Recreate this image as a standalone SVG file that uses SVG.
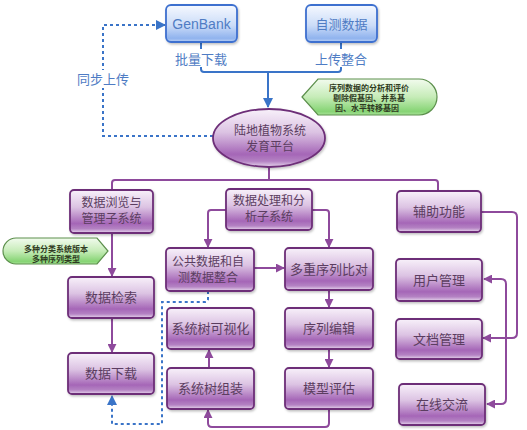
<svg xmlns="http://www.w3.org/2000/svg" width="527" height="430" viewBox="0 0 527 430">
<defs>
<linearGradient id="gp" x1="0" y1="0" x2="0" y2="1">
<stop offset="0" stop-color="#f8f1fa"/>
<stop offset="0.4" stop-color="#dcc3e3"/>
<stop offset="0.78" stop-color="#a566b7"/>
<stop offset="0.9" stop-color="#b482c3"/>
<stop offset="1" stop-color="#e8d8ee"/>
</linearGradient>
<linearGradient id="gb" x1="0" y1="0" x2="0" y2="1">
<stop offset="0" stop-color="#f6f9ff"/>
<stop offset="0.55" stop-color="#cbdcf8"/>
<stop offset="0.9" stop-color="#90b3ee"/>
<stop offset="1" stop-color="#b8cff5"/>
</linearGradient>
<linearGradient id="gg" x1="0" y1="0" x2="0" y2="1">
<stop offset="0" stop-color="#f2fbee"/>
<stop offset="0.5" stop-color="#c6ecb8"/>
<stop offset="0.9" stop-color="#86d474"/>
<stop offset="1" stop-color="#a6e096"/>
</linearGradient>
<filter id="sh" x="-10%" y="-10%" width="130%" height="140%">
<feDropShadow dx="1" dy="1.5" stdDeviation="1" flood-color="#000" flood-opacity="0.25"/>
</filter>
<marker id="ap" viewBox="0 0 10 10" refX="9" refY="5" markerWidth="9" markerHeight="9" markerUnits="userSpaceOnUse" orient="auto-start-reverse">
<path d="M0,0 L10,5 L0,10 Z" fill="#8e4a9c"/>
</marker>
<marker id="ab" viewBox="0 0 10 10" refX="9" refY="5" markerWidth="10" markerHeight="10" markerUnits="userSpaceOnUse" orient="auto-start-reverse">
<path d="M0,0 L10,5 L0,10 Z" fill="#3a74c8"/>
</marker>
</defs>
<style>
.pb{fill:url(#gp);stroke:#6d2f78;stroke-width:1.8;filter:url(#sh)}
.bb{fill:url(#gb);stroke:#3d6fcf;stroke-width:1.8;filter:url(#sh)}
.cb{fill:url(#gg);stroke:#5c8f4c;stroke-width:1.2}
.t{font-family:"Noto Sans CJK SC","Liberation Sans",sans-serif;font-size:13px;fill:#5b3d60;text-anchor:middle}
.t2{font-size:12px}
.tb{font-family:"Noto Sans CJK SC","Liberation Sans",sans-serif;font-size:13px;fill:#4f7cc4;text-anchor:middle}
.tg{font-family:"Noto Sans CJK SC",sans-serif;font-size:8px;font-weight:bold;fill:#2f3a22;text-anchor:middle}
.lp{fill:none;stroke:#8e4a9c;stroke-width:2}
.lb{fill:none;stroke:#3a74c8;stroke-width:2}
.ld{fill:none;stroke:#3a74c8;stroke-width:2;stroke-dasharray:3,3}
</style>

<g id="connectors">
<path class="lb" d="M201,42 V49"/>
<path class="lb" d="M341,42 V49"/>
<path class="lb" d="M201,67 V69 q0,3 3,3 H338 q3,0 3,-3 V67"/>
<path class="lb" d="M268,72 V107" marker-end="url(#ab)"/>
<path class="ld" d="M213,136 H103 V25 H165" marker-end="url(#ab)"/>
<path class="lp" d="M269,167 V180"/>
<path class="lp" d="M112,190 V183 q0,-3 3,-3 H435 q3,0 3,3 V191"/>
<path class="lp" d="M226,210 H211 q-3,0 -3,3 V247" marker-end="url(#ap)"/>
<path class="lp" d="M312,210 H326 q3,0 3,3 V247" marker-end="url(#ap)"/>
<path class="lp" d="M112,233 V276" marker-end="url(#ap)"/>
<path class="lp" d="M112,319 V352" marker-end="url(#ap)"/>
<path class="lp" d="M254,268 H284" marker-end="url(#ap)"/>
<path class="lp" d="M329,290 V307" marker-end="url(#ap)"/>
<path class="lp" d="M329,349 V367" marker-end="url(#ap)"/>
<path class="lp" d="M329,409 V423 q0,4 -4,4 H212 q-4,0 -4,-4 V410" marker-end="url(#ap)"/>
<path class="lp" d="M209,368 V350" marker-end="url(#ap)"/>
<path class="ld" d="M208,291 V299 q0,3 -3,3 H162 V424 H112 V396" marker-end="url(#ab)"/>
<path class="lp" d="M481,212 H512 q5,0 5,5 V333 q0,5 -5,5 H483" marker-end="url(#ap)"/>
<path class="lp" d="M484,279 H501 q5,0 5,5 V399 q0,5 -5,5 H487" marker-start="url(#ap)" marker-end="url(#ap)"/>
</g>

<g id="genbank"><rect class="bb" x="166" y="5" width="71" height="37" rx="5"/><text x="201.5" y="28.5" class="tb" style="font-family:'Liberation Sans',sans-serif;font-size:14px">GenBank</text></g>
<g id="zice"><rect class="bb" x="306" y="5" width="71" height="37" rx="5"/><text x="341.5" y="28.5" class="tb">自测数据</text></g>
<g id="lbl-download"><text x="201" y="64" class="tb">批量下载</text></g>
<g id="lbl-upload"><text x="341" y="64" class="tb">上传整合</text></g>
<g id="lbl-sync"><rect x="76" y="70" width="54" height="18" fill="#fff"/><text x="103" y="84" class="tb">同步上传</text></g>

<g id="callout1"><path class="cb" d="M302,97 L318,79 H419 A18,18 0 0 1 419,115 H318 Z"/>
<text x="369" y="91" class="tg">序列数据的分析和评价</text>
<text x="369" y="101" class="tg">剔除假基因、并系基</text>
<text x="367" y="111" class="tg">因、水平转移基因</text></g>

<g id="platform"><ellipse class="pb" cx="269" cy="138" rx="56" ry="29" stroke="#5b2367"/>
<text x="270" y="134.5" class="t t2">陆地植物系统</text><text x="270" y="150.5" class="t t2">发育平台</text></g>

<g id="browse"><rect class="pb" x="70" y="190" width="83" height="43" rx="4"/><text x="111.5" y="206.5" class="t t2">数据浏览与</text><text x="111.5" y="222.5" class="t t2">管理子系统</text></g>
<g id="process"><rect class="pb" x="226" y="189" width="86" height="41" rx="4"/><text x="269" y="204.5" class="t t2">数据处理和分</text><text x="269" y="220.5" class="t t2">析子系统</text></g>
<g id="aux"><rect class="pb" x="397" y="191" width="84" height="41" rx="4"/><text x="439" y="216" class="t">辅助功能</text></g>

<g id="callout2"><path class="cb" d="M16,238 H97 L108,251 L97,264 H16 A13,13 0 0 1 16,238 Z"/>
<text x="56" y="251.5" class="tg">多种分类系统版本</text><text x="56" y="261.5" class="tg">多种序列类型</text></g>

<g id="search"><rect class="pb" x="68" y="277" width="86" height="41" rx="4"/><text x="111" y="302" class="t">数据检索</text></g>
<g id="download"><rect class="pb" x="68" y="353" width="86" height="41" rx="4"/><text x="111" y="378" class="t">数据下载</text></g>
<g id="integrate"><rect class="pb" x="166" y="248" width="88" height="43" rx="4"/><text x="208" y="265.5" class="t t2">公共数据和自</text><text x="208" y="281.5" class="t t2">测数据整合</text></g>
<g id="msa"><rect class="pb" x="285" y="248" width="88" height="42" rx="4"/><text x="329" y="273.5" class="t">多重序列比对</text></g>
<g id="treeviz"><rect class="pb" x="167" y="308" width="87" height="41" rx="4"/><text x="210.5" y="333" class="t">系统树可视化</text></g>
<g id="seqedit"><rect class="pb" x="285" y="308" width="88" height="41" rx="4"/><text x="329" y="333" class="t">序列编辑</text></g>
<g id="treeasm"><rect class="pb" x="167" y="368" width="87" height="41" rx="4"/><text x="210.5" y="393" class="t">系统树组装</text></g>
<g id="model"><rect class="pb" x="285" y="368" width="88" height="41" rx="4"/><text x="329" y="393" class="t">模型评估</text></g>
<g id="user"><rect class="pb" x="396" y="259" width="86" height="42" rx="4"/><text x="439" y="284.5" class="t">用户管理</text></g>
<g id="doc"><rect class="pb" x="396" y="319" width="86" height="40" rx="4"/><text x="439" y="343.5" class="t">文档管理</text></g>
<g id="chat"><rect class="pb" x="399" y="384" width="86" height="41" rx="4"/><text x="442" y="409" class="t">在线交流</text></g>
</svg>
